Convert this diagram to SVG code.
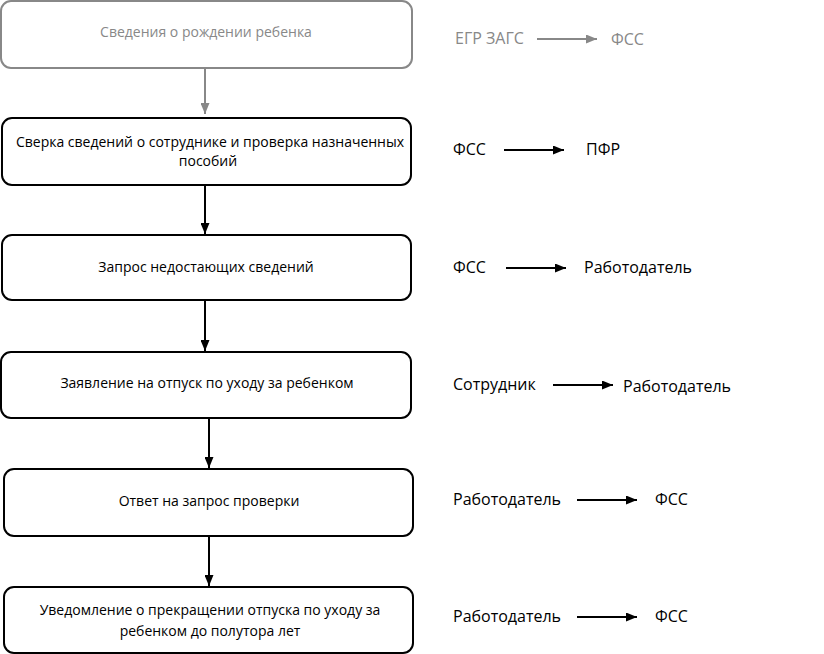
<svg xmlns="http://www.w3.org/2000/svg" width="824" height="654" viewBox="0 0 824 654">
<defs>
<marker id="ab" markerWidth="11" markerHeight="9" refX="11" refY="4.5" orient="auto" markerUnits="userSpaceOnUse"><path d="M0,0 L11,4.5 L0,9 Z" fill="#000"/></marker>
<marker id="ag" markerWidth="11" markerHeight="9" refX="11" refY="4.5" orient="auto" markerUnits="userSpaceOnUse"><path d="M0,0 L11,4.5 L0,9 Z" fill="#888"/></marker>
</defs>
<style>
text{font-family:"Open Sans","Noto Sans","Liberation Sans",sans-serif}
.box{fill:#fff;stroke:#000;stroke-width:2}
.gbox{fill:#fff;stroke:#888;stroke-width:2}
.bt{font-size:14px;text-anchor:middle;fill:#000}
.gt{font-size:14px;text-anchor:middle;fill:#888}
.lt{font-size:16px;fill:#000}
.lg{font-size:16px;fill:#888}
.c{stroke:#000;stroke-width:2;fill:none;marker-end:url(#ab)}
.cg{stroke:#888;stroke-width:2;fill:none;marker-end:url(#ag)}
</style>
<rect width="824" height="654" fill="#fff"/>
<g id="connectors">
<line class="cg" x1="205" y1="68" x2="205" y2="114"/>
<line class="c" x1="205" y1="185" x2="205" y2="234"/>
<line class="c" x1="205" y1="300" x2="205" y2="351"/>
<line class="c" x1="209" y1="418" x2="209" y2="468"/>
<line class="c" x1="209" y1="536" x2="209" y2="586"/>
<line class="cg" x1="537" y1="39" x2="597" y2="39"/>
<line class="c" x1="504" y1="150" x2="564" y2="150"/>
<line class="c" x1="506" y1="268" x2="566" y2="268"/>
<line class="c" x1="553" y1="385" x2="613" y2="385"/>
<line class="c" x1="577" y1="500" x2="637" y2="500"/>
<line class="c" x1="577" y1="617" x2="637" y2="617"/>
</g>
<g id="n1"><rect class="gbox" x="1" y="1" width="411" height="67" rx="10"/><text class="gt" x="206" y="37">Сведения о рождении ребенка</text></g>
<g id="n2"><rect class="box" x="2" y="118" width="409" height="67" rx="10"/><text class="bt" x="210" y="147">Сверка сведений о сотруднике и проверка назначенных</text><text class="bt" x="208" y="166">пособий</text></g>
<g id="n3"><rect class="box" x="2" y="235" width="409" height="65" rx="10"/><text class="bt" x="206" y="272">Запрос недостающих сведений</text></g>
<g id="n4"><rect class="box" x="1" y="352" width="410" height="66" rx="10"/><text class="bt" x="207" y="388">Заявление на отпуск по уходу за ребенком</text></g>
<g id="n5"><rect class="box" x="4" y="469" width="409" height="67" rx="10"/><text class="bt" x="209" y="506">Ответ на запрос проверки</text></g>
<g id="n6"><rect class="box" x="4" y="587" width="409" height="66" rx="10"/><text class="bt" x="210" y="615">Уведомление о прекращении отпуска по уходу за</text><text class="bt" x="210" y="636">ребенком до полутора лет</text></g>
<g id="labels">
<text class="lg" x="455" y="44">ЕГР ЗАГС</text><text class="lg" x="611" y="45">ФСС</text>
<text class="lt" x="453" y="155">ФСС</text><text class="lt" x="586" y="155">ПФР</text>
<text class="lt" x="453" y="273">ФСС</text><text class="lt" x="584" y="273">Работодатель</text>
<text class="lt" x="453" y="390">Сотрудник</text><text class="lt" x="623" y="392">Работодатель</text>
<text class="lt" x="453" y="505">Работодатель</text><text class="lt" x="655" y="505">ФСС</text>
<text class="lt" x="453" y="622">Работодатель</text><text class="lt" x="655" y="622">ФСС</text>
</g>
</svg>
